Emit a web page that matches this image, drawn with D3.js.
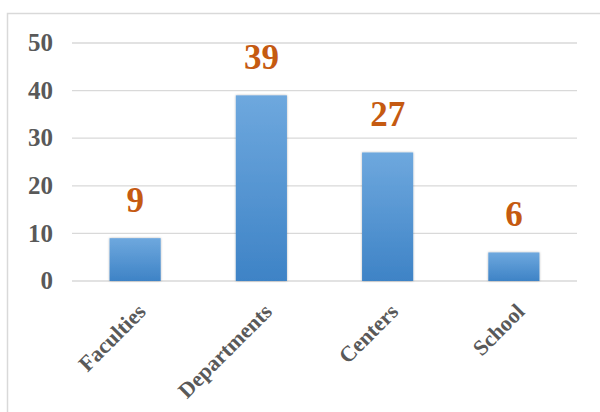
<!DOCTYPE html>
<html><head><meta charset="utf-8">
<script src="https://cdn.jsdelivr.net/npm/d3@7"></script>
<style>body{margin:0;background:#fff;} svg{display:block;} text{font-family:"Liberation Serif","Times New Roman","DejaVu Serif",serif;font-weight:bold;}</style>
</head><body>
<script>
const categories = ["Faculties", "Departments", "Centers", "School"];
const values = [9, 39, 27, 6];
const yTicks = [0, 10, 20, 30, 40, 50];

const W = 600, H = 412;
const svg = d3.select("body").append("svg").attr("width", W).attr("height", H);

const defs = svg.append("defs");
const grad = defs.append("linearGradient").attr("id", "barGrad")
  .attr("x1", 0).attr("y1", 0).attr("x2", 0).attr("y2", 1);
grad.append("stop").attr("offset", "0%").attr("stop-color", "#6ea8de");
grad.append("stop").attr("offset", "100%").attr("stop-color", "#3e83c6");
const filt = defs.append("filter").attr("id", "shadow").attr("x", "-20%").attr("y", "-20%").attr("width", "140%").attr("height", "140%");
filt.append("feDropShadow").attr("dx", 0).attr("dy", 0).attr("stdDeviation", 1.2).attr("flood-color", "#000").attr("flood-opacity", 0.3);

// border
svg.append("rect").attr("x", 7.5).attr("y", 13.5).attr("width", 620).attr("height", 420)
  .attr("fill", "none").attr("stroke", "#d9d9d9").attr("stroke-width", 1.5);

const x0 = 72, x1 = 577;
const x = d3.scaleBand().domain(categories).range([x0, x1]).padding(0);
const y = d3.scaleLinear().domain([0, 50]).range([281, 43]);

// gridlines
svg.append("g").selectAll("line").data(yTicks).join("line")
  .attr("x1", x0).attr("x2", x1)
  .attr("y1", d => y(d)).attr("y2", d => y(d))
  .attr("stroke", "#d9d9d9").attr("stroke-width", 1.3);

// y axis labels
svg.append("g").selectAll("text").data(yTicks).join("text")
  .attr("x", 53).attr("y", d => y(d)).attr("dy", "0.33em")
  .attr("text-anchor", "end")
  .attr("font-size", 25).attr("fill", "#595959")
  .text(d => d);

const bw = x.bandwidth() * 0.405;
// bars
svg.append("g").selectAll("rect").data(values).join("rect")
  .attr("x", (d, i) => x(categories[i]) + (x.bandwidth() - bw) / 2)
  .attr("width", bw)
  .attr("y", d => y(d))
  .attr("height", d => y(0) - y(d))
  .attr("fill", "url(#barGrad)")
  .attr("filter", "url(#shadow)");

// value labels
svg.append("g").selectAll("text").data(values).join("text")
  .attr("x", (d, i) => x(categories[i]) + x.bandwidth() / 2)
  .attr("y", d => y(d) - 26)
  .attr("text-anchor", "middle")
  .attr("font-size", 35).attr("fill", "#c55a11")
  .text(d => d);

// category labels
svg.append("g").selectAll("text").data(categories).join("text")
  .attr("transform", d => `translate(${x(d) + x.bandwidth() / 2 + 12},${313}) rotate(-45)`)
  .attr("text-anchor", "end")
  .attr("font-size", 22).attr("fill", "#595959")
  .text(d => d);
</script>
</body></html>
